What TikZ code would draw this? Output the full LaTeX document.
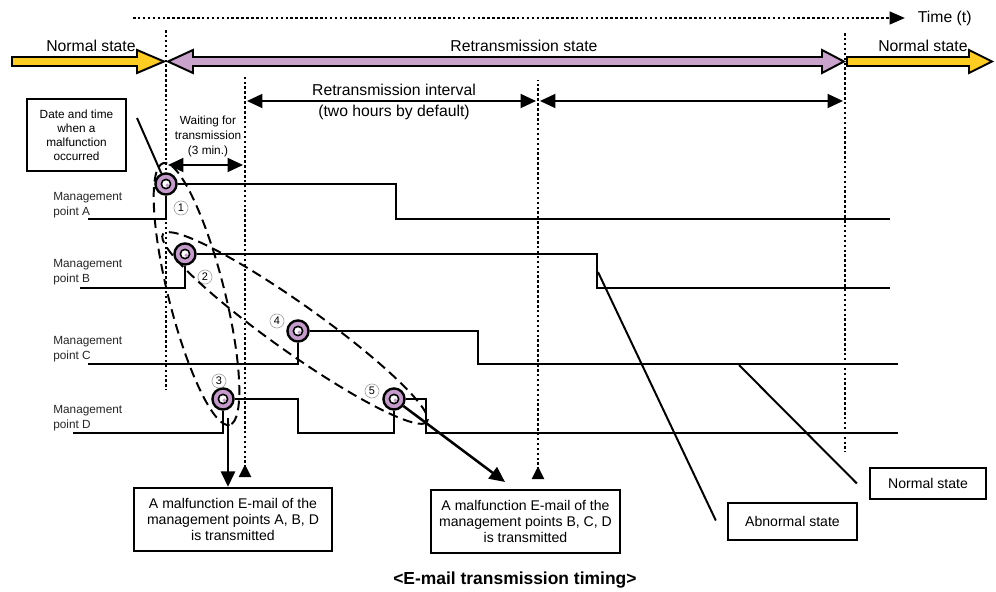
\documentclass[tikz,border=0pt]{standalone}
\usepackage{fontspec}
\setmainfont{Liberation Sans}
\usetikzlibrary{arrows.meta, positioning, calc}
\definecolor{stateyellow}{HTML}{FFCC22}
\definecolor{statepurple}{HTML}{C9A3CC}
\definecolor{markpurple}{HTML}{C49BCB}

\begin{document}
\begin{tikzpicture}[
    x=0.025cm, y=-0.025cm,
    lbl/.style={font=\fontsize{11.2}{15}\selectfont, inner sep=0pt, align=center},
    smalltxt/.style={font=\fontsize{8.4}{10.7}\selectfont, inner sep=0pt, align=center},
    mgmt/.style={font=\fontsize{8.4}{10.5}\selectfont, inner sep=0pt, align=left, anchor=west, text=black!85},
    box/.style={rectangle, draw, line width=1.6pt, align=center,
                font=\fontsize{10}{11.4}\selectfont, inner sep=2pt},
    fatarrow/.style={draw, line width=1.4pt, line join=miter},
    dotline/.style={dash pattern=on 1.8pt off 1.7pt, line width=1.8pt},
    wave/.style={line width=1.6pt},
    lead/.style={line width=1.4pt},
    grp/.style={dash pattern=on 7pt off 4pt, line width=1.4pt},
    spanarrow/.style={{Triangle[length=11pt,width=10pt]}-{Triangle[length=11pt,width=10pt]}, line width=1.2pt},
    sendarrow/.style={-{Triangle[length=11pt,width=10pt]}, line width=1.8pt},
    evmark/.style={circle, draw, line width=1.7pt, fill=markpurple, minimum size=15pt, inner sep=0pt,
                   path picture={
                     \draw[line width=1.1pt, fill=white] (path picture bounding box.center) circle (3.3pt);
                     \fill ([shift={(0.9pt,-0.9pt)}]path picture bounding box.center) circle (1.3pt);}},
    num/.style={circle, draw=gray!80, line width=0.4pt, inner sep=0pt, minimum size=10pt,
                font=\fontsize{7.8}{8}\selectfont}
]
\useasboundingbox (0,0) rectangle (996,592);

% Time axis
\draw[dotline, -{Triangle[length=11pt,width=9pt]}] (133,18) -- (905,18) coordinate (tend);
\node[lbl, right=9pt of tend] (time) {Time (t)};

% State arrows
\draw[fatarrow, fill=stateyellow] (12,57) -- (137,57) -- (137,50) -- (164,61.5) -- (137,73) -- (137,66) -- (12,66) -- cycle;
\draw[fatarrow, fill=statepurple] (168,61.5) -- (193,50) -- (193,57) -- (822,57) -- (822,50) -- (844,61.5)
    -- (822,73) -- (822,66) -- (193,66) -- (193,73) -- cycle;
\draw[fatarrow, fill=stateyellow] (847,57) -- (969,57) -- (969,50) -- (992,61.5) -- (969,73) -- (969,66) -- (847,66) -- cycle;
\node[lbl] (norm1) at (91,46) {Normal state};
\node[lbl] (retr) at (524,46) {Retransmission state};
\node[lbl] (norm2) at (923,46) {Normal state};

% Time marks
\draw[dotline] (166,30) -- (166,390);
\draw[dotline, {Triangle[reversed,length=9pt,width=8.5pt]}-] (245,477) -- (245,75);
\draw[dotline, {Triangle[reversed,length=9pt,width=8.5pt]}-] (538,479) -- (538,80);
\draw[dotline] (845,33) -- (845,452);

% Intervals
\draw[spanarrow] (247,101) -- (536,101);
\draw[spanarrow] (540,101) -- (843,101);
\node[lbl] (intv) at (394,102) {Retransmission interval\\(two hours by default)};
\draw[spanarrow] (168,165) -- (243,165);
\node[smalltxt] (wait) at (208,136) {Waiting for\\transmission\\(3 min.)};

\node[box, font=\fontsize{8.4}{10}\selectfont, minimum width=70pt, minimum height=51pt] (dtime) at (76.5,135)
    {Date and time\\when a\\malfunction\\occurred};

% Management points
\node[mgmt] (lA) at (53,205.5) {Management\\point A};
\node[mgmt] (lB) at (53,272) {Management\\point B};
\node[mgmt] (lC) at (53,349) {Management\\point C};
\node[mgmt] (lD) at (53,418.5) {Management\\point D};

\node[evmark] (mA) at (166,184) {};
\node[evmark] (mB) at (185,254) {};
\node[evmark] (mC) at (298,331) {};
\node[evmark] (mD) at (223,399) {};
\node[evmark] (mE) at (394,399) {};

\draw[wave] (88,219) -| (mA.south);
\draw[wave] (mA.east) -- (396,184) |- (890,219);
\draw[wave] (80,288) -| (mB.south);
\draw[wave] (mB.east) -- (597,254) |- (890,288);
\draw[wave] (88,364) -| (mC.south);
\draw[wave] (mC.east) -- (478,331) |- (898,364);
\draw[wave] (73,433) -| (mD.south);
\draw[wave] (mD.east) -- (298,399) |- (394,433) -- (mE.south);
\draw[wave] (mE.east) -- (426,399) |- (898,433);

\node[num] (n1) at (181,208) {1};
\node[num] (n2) at (205,277) {2};
\node[num] (n3) at (219,381) {3};
\node[num] (n4) at (277,321) {4};
\node[num] (n5) at (372,391) {5};

% Groups
\draw[grp, rotate around={-75.8:(196.5,294)}] (196.5,294) ellipse [x radius=135, y radius=28];
\draw[grp, rotate around={-35.4:(295,328)}] (295,328) ellipse [x radius=162, y radius=24];

% Result boxes
\node[box, minimum width=140.8pt, minimum height=44.8pt] (box1) at (233,519.5)
    {A malfunction E-mail of the\\management points A, B, D\\is transmitted};
\node[box, minimum width=134.4pt, minimum height=44.8pt] (box2) at (525.5,521.5)
    {A malfunction E-mail of the\\management points B, C, D\\is transmitted};
\node[box, minimum width=91.8pt, minimum height=26.3pt] (abn) at (792.5,521.5) {Abnormal state};
\node[box, minimum width=82.5pt, minimum height=22pt] (nrm) at (928,483.5) {Normal state};

\coordinate (dsend) at (228,418);
\draw[sendarrow] (dsend) -- (dsend |- box1.north);
\coordinate (esend) at (505,482);
\draw[sendarrow] (mE) -- (esend);

% Leaders
\draw[lead] (137,118) -- (mA);
\draw[lead] (598,272) -- ($(abn.west)+(-11,-1)$);
\draw[lead] (739,365) -- ($(nrm.west)+(-12,0)$);

\node[font=\bfseries\fontsize{12.4}{14}\selectfont, anchor=west, inner sep=0pt] (title) at (393,580)
    {<E-mail transmission timing>};

\end{tikzpicture}
\end{document}
